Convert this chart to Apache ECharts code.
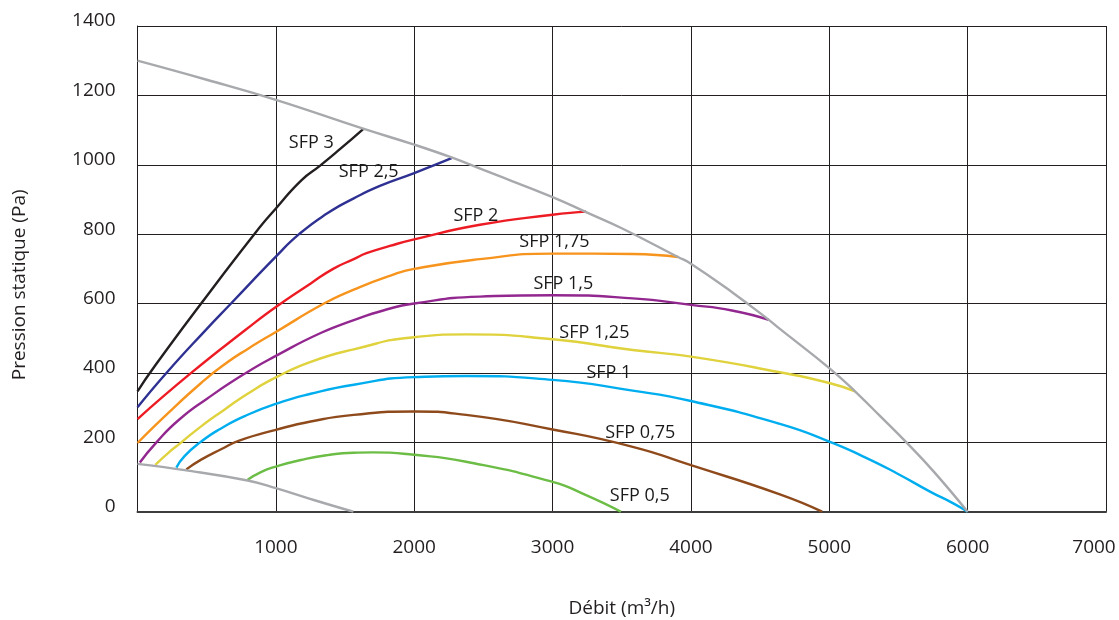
<!DOCTYPE html>
<html>
<head>
<meta charset="utf-8">
<script src="https://cdn.jsdelivr.net/npm/echarts@6/dist/echarts.min.js"></script>
<style>
html,body{margin:0;padding:0;background:#fff;}
#chart{width:1119px;height:620px;}
</style>
</head>
<body>
<div id="chart"></div>
<script>
// Axis ticks
const xMin = 0, xMax = 7000, xStep = 1000;
const yMin = 0, yMax = 1400, yStep = 200;
const xTitle = 'Débit (m³/h)';
const yTitle = 'Pression statique (Pa)';

// Curves [debit, pression]
const envelopeMax = [[0,1300],[500,1245],[1000,1187],[1631,1104],[2000,1058],[2270,1021],[2500,985],[3000,907],[3250,862],[3500,817],[3907,734],[4000,715],[4300,632],[4563,553],[4643,527],[5000,414],[5186,347],[5366,276],[5559,199],[5752,117],[6000,0]];
const envelopeMin = [[0,138],[341,120],[796,90],[1000,68],[1280,33],[1560,0]];
const sfp3   = [[0,347],[129,422],[460,600],[844,800],[1000,874],[1186,956],[1318,997],[1463,1045],[1631,1103]];
const sfp25  = [[0,301],[209,400],[496,525],[676,600],[1000,735],[1168,800],[1372,860],[1563,903],[1752,939],[2000,976],[2270,1019]];
const sfp2   = [[0,267],[388,400],[784,525],[1000,590],[1252,658],[1414,700],[1563,728],[1655,745],[1824,766],[2000,785],[2475,827],[3000,856],[3242,865]];
const sfp175 = [[0,198],[221,284],[460,371],[630,425],[800,470],[1000,518],[1348,600],[1563,640],[1824,680],[2000,700],[2475,728],[3000,744],[3579,743],[3907,734]];
const sfp15  = [[17,142],[137,200],[300,265],[500,325],[784,400],[1000,449],[1324,515],[1563,552],[1776,580],[2000,600],[2475,620],[3000,624],[3579,615],[4000,596],[4296,580],[4563,553]];
const sfp125 = [[129,135],[221,169],[317,200],[460,246],[628,294],[796,340],[1000,387],[1252,432],[1563,468],[2000,503],[2375,511],[3000,497],[3579,466],[4000,447],[4643,402],[5000,371],[5186,347]];
const sfp1   = [[281,127],[340,160],[460,202],[604,240],[772,275],[1000,311],[1252,340],[1563,366],[2000,388],[2375,391],[3000,380],[3579,349],[4000,319],[4643,253],[5000,202],[5246,159],[5487,111],[5728,58],[5896,24],[6000,0]];
const sfp075 = [[353,122],[460,150],[604,180],[735,205],[1000,236],[1252,260],[1563,279],[2000,289],[2375,279],[3000,237],[3579,187],[4000,134],[4643,50],[4948,0]];
const sfp05  = [[796,92],[892,114],[1000,130],[1180,149],[1372,163],[1563,170],[1700,171],[2000,164],[2375,144],[3000,86],[3242,48],[3494,0]];

const curveNames  = ['SFP 3','SFP 2,5','SFP 2','SFP 1,75','SFP 1,5','SFP 1,25','SFP 1','SFP 0,75','SFP 0,5'];
const curveData   = [sfp3, sfp25, sfp2, sfp175, sfp15, sfp125, sfp1, sfp075, sfp05];
const curveColors = ['#231f20','#2e3192','#ed1c24','#f7941d','#92278f','#dfd23c','#00aeef','#8f4a1c','#6cbd45'];

// Curve labels (name, debit, pression)
const labelX = [1256,1671,2446,3013,3078,3302,3407,3634,3630];
const labelY = [1062,979,853,777,657,516,399,228,45];

const FONT = '"Open Sans", "Noto Sans", sans-serif';
const INK = '#231f20';

const series = [];
curveData.forEach((d, i) => {
  series.push({
    name: curveNames[i], type: 'line', data: d, showSymbol: false, symbol: 'none',
    smooth: 0.55,
    lineStyle: { color: curveColors[i], width: 2.4 }, z: 3, silent: true
  });
});
[envelopeMax, envelopeMin].forEach((d, i) => {
  series.push({
    name: i ? 'min' : 'max', type: 'line', data: d, showSymbol: false, symbol: 'none',
    smooth: 0.45,
    lineStyle: { color: '#a7a9ac', width: 2.4 }, z: 4, silent: true
  });
});
series.push({
  type: 'scatter', symbolSize: 1, silent: true, z: 5,
  itemStyle: { color: 'rgba(0,0,0,0)' },
  data: curveNames.map((n, i) => ({ name: n, value: [labelX[i], labelY[i]] })),
  label: {
    show: true, position: 'inside', formatter: p => p.name,
    fontFamily: FONT, fontSize: 18, color: '#1a1a1a', align: 'center', verticalAlign: 'middle',
    textBorderWidth: 0, opacity: 1
  }
});

const chart = echarts.init(document.getElementById('chart'), null, { renderer: 'canvas' });
chart.setOption({
  animation: false,
  backgroundColor: '#fff',
  grid: { left: 137.5, right: 13, top: 26, bottom: 108.3, containLabel: false, outerBoundsMode: 'none' },
  xAxis: {
    type: 'value', min: xMin, max: xMax, interval: xStep,
    name: xTitle, nameLocation: 'middle', nameGap: 97,
    nameTextStyle: { fontFamily: FONT, fontSize: 19, color: INK, verticalAlign: 'middle' },
    axisLine: { show: true, onZero: false, lineStyle: { color: '#3c3c3c', width: 2 } },
    axisTick: { show: false },
    splitLine: { show: true, lineStyle: { color: INK, width: 1 } },
    axisLabel: {
      fontFamily: FONT, fontSize: 19, color: INK, margin: 26, lineHeight: 20,
      formatter: v => v === xMin ? '' : (v === xMax ? '{m|' + String(v) + '}' : String(v)),
      rich: { m: { fontFamily: FONT, fontSize: 19, color: INK, padding: [0, 24, 0, 0] } }
    }
  },
  yAxis: {
    type: 'value', min: yMin, max: yMax, interval: yStep,
    name: yTitle, nameLocation: 'middle', nameGap: 118,
    nameTextStyle: { fontFamily: FONT, fontSize: 19, color: INK, verticalAlign: 'middle', padding: [0, 32, 0, 0] },
    axisLine: { show: true, lineStyle: { color: INK, width: 1 } },
    axisTick: { show: false },
    splitLine: { show: true, lineStyle: { color: INK, width: 1 } },
    axisLabel: {
      fontFamily: FONT, fontSize: 19, color: INK, margin: 22,
      formatter: v => '{t|' + String(v) + '}',
      rich: { t: { fontFamily: FONT, fontSize: 19, color: INK, padding: [0, 0, 10, 0] } }
    }
  },
  series: series
});
</script>
</body>
</html>
